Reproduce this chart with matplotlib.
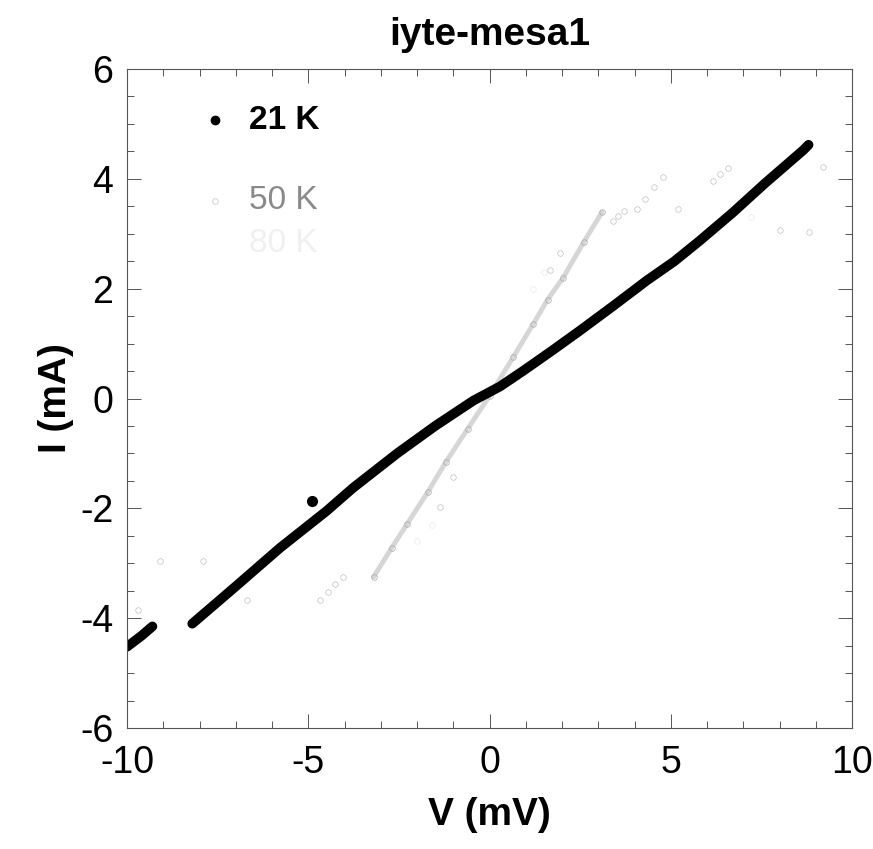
import matplotlib
matplotlib.use("Agg")
import matplotlib.pyplot as plt
from matplotlib.ticker import MultipleLocator

plt.rcParams['font.family'] = ['Liberation Sans', 'DejaVu Sans']
plt.rcParams['axes.unicode_minus'] = False

# 21 K, main branch (V in mV, I in mA)
v21 = [-8.2, -7.0, -5.78, -4.5, -3.77, -2.55, -1.5, -0.45, 0.29, 0.92,
       1.7, 2.5, 3.4, 4.34, 5.1, 5.81, 6.7, 7.6, 8.65, 8.8]
i21 = [-4.1, -3.42, -2.72, -2.05, -1.63, -1.0, -0.5, -0.04, 0.22, 0.5,
       0.86, 1.24, 1.68, 2.15, 2.5, 2.88, 3.38, 3.92, 4.52, 4.62]
# 21 K, short branch near -10 mV and a stray point
v21_end = [-10.0, -9.6, -9.3]
i21_end = [-4.52, -4.32, -4.15]
v21_odd = [-4.9]
i21_odd = [-1.87]

# 50 K, main band
v50 = [-3.2, -2.7, -2.27, -1.7, -1.2, -0.6, 0.0, 0.65, 1.2, 1.6, 2.03, 2.6, 3.1]
i50 = [-3.25, -2.72, -2.28, -1.7, -1.15, -0.55, 0.05, 0.75, 1.35, 1.8, 2.2, 2.85, 3.39]
# 50 K, sparse points away from the band
v50s = [3.4, 3.55, 3.7, 4.07, 4.3, 4.55, 4.79, 5.2, 6.16, 6.35, 6.58, 9.2, 8.0, 8.8,
        1.67, 1.95, -1.0, -1.36, -4.68, -4.45, -4.25, -4.05, -6.7, -7.6, -9.7, -7.9, -9.1]
i50s = [3.24, 3.33, 3.42, 3.46, 3.64, 3.85, 4.03, 3.46, 3.97, 4.08, 4.19, 4.22, 3.07, 3.03,
        2.34, 2.65, -1.43, -1.98, -3.67, -3.52, -3.38, -3.25, -3.67, -3.73, -3.85, -2.95, -2.95]

# third (very faint) series
v80 = [1.2, 1.5, -1.6, -2.0, 7.2]
i80 = [2.0, 2.3, -2.3, -2.6, 3.3]

fig = plt.figure(figsize=(8.73, 8.49), dpi=100)
ax = fig.add_axes([0.1455, 0.1425, 0.8305, 0.7762])

ax.plot(v80, i80, ls='none', marker='o', ms=4, mfc='none', mec='#ececec', mew=0.6)
ax.plot(v50, i50, color='#d6d6d6', lw=3.5, solid_capstyle='round')
ax.plot(v50, i50, ls='none', marker='o', ms=4, mfc='none', mec='#a8a8a8', mew=0.5)
ax.plot(v50s, i50s, ls='none', marker='o', ms=4, mfc='none', mec='#c0c0c0', mew=0.5)

ax.plot(v21, i21, color='black', lw=7, solid_capstyle='round', solid_joinstyle='round')
ax.plot(v21_end, i21_end, color='black', lw=7, solid_capstyle='round')
ax.plot(v21_odd, i21_odd, ls='none', marker='o', ms=7, color='black')

ax.set_xlim(-10, 10)
ax.set_ylim(-6, 6)
ax.xaxis.set_major_locator(MultipleLocator(5))
ax.xaxis.set_minor_locator(MultipleLocator(1))
ax.yaxis.set_major_locator(MultipleLocator(2))
ax.yaxis.set_minor_locator(MultipleLocator(0.5))
ax.tick_params(which='both', direction='in', top=True, right=True,
               color='#555555', width=0.7)
ax.tick_params(which='major', length=10, labelsize=27)
ax.tick_params(axis='x', which='major', pad=12)
ax.tick_params(axis='y', which='major', pad=10)
ax.tick_params(which='minor', length=5)
for s in ax.spines.values():
    s.set_linewidth(0.8)
    s.set_color('#555555')

ax.set_xlabel('V (mV)', fontsize=28, fontweight='bold', labelpad=12)
ax.set_ylabel('I (mA)', fontsize=28, fontweight='bold', labelpad=4)
ax.set_title('iyte-mesa1', fontsize=28, fontweight='bold', pad=17)

# legend drawn by hand
tr = ax.transAxes
ax.plot([0.121], [0.922], marker='o', ms=6, color='black', transform=tr)
ax.text(0.168, 0.922, '21 K', transform=tr, fontsize=24, fontweight='bold', va='center')
ax.plot([0.121], [0.80], marker='o', ms=4, mfc='none', mec='#cccccc', mew=0.6, transform=tr)
ax.text(0.168, 0.80, '50 K', transform=tr, fontsize=24, color='#8a8a8a', va='center')
ax.text(0.168, 0.735, '80 K', transform=tr, fontsize=24, color='#f0f0f0', va='center')

fig.savefig('out.png', dpi=100)
